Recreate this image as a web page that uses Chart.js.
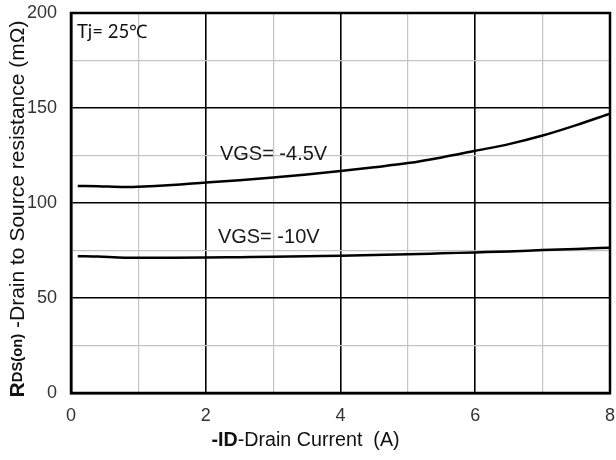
<!DOCTYPE html>
<html>
<head>
<meta charset="utf-8">
<script src="https://cdn.jsdelivr.net/npm/chart.js@4/dist/chart.umd.min.js"></script>
<style>
  html, body { margin: 0; padding: 0; background: #fff; }
  #wrap { width: 616px; height: 460px; }
</style>
</head>
<body>
<div id="wrap"><canvas id="c" width="616" height="460"></canvas></div>
<script>
// Drain current sample points (A)
const currentA = [0.1, 0.4, 0.8, 1.0, 1.5, 2.0, 2.5, 3.0, 3.5, 4.0, 4.5, 5.0, 5.5, 6.0, 6.5, 7.0, 7.5, 8.0];
// RDS(on) in mOhm at VGS = -4.5 V
const rdsVgs45 = [109, 108.8, 108.4, 108.6, 109.5, 110.8, 112, 113.4, 115, 116.8, 118.8, 121, 124, 127.5, 131, 135.5, 141, 147];
// RDS(on) in mOhm at VGS = -10 V
const rdsVgs10 = [72, 71.8, 71.2, 71.2, 71.2, 71.3, 71.5, 71.7, 72, 72.2, 72.6, 73, 73.5, 74, 74.5, 75.2, 75.8, 76.5];
// Labelled tick values
const xTickLabels = [0, 2, 4, 6, 8];
const yTickLabels = [0, 50, 100, 150, 200];
const curveLabels = ['VGS= -4.5V', 'VGS= -10V'];

const toPoints = (ys) => currentA.map((x, i) => ({ x: x, y: ys[i] }));

const FONT = '"Liberation Sans", Arial, sans-serif';

// Frame, series captions and the mixed-style axis titles
const decorations = {
  id: 'decorations',
  afterDraw(chart) {
    const { ctx, chartArea: a, scales } = chart;
    ctx.save();
    // plot frame
    ctx.strokeStyle = '#000';
    ctx.lineWidth = 2.5;
    ctx.strokeRect(a.left, a.top, a.right - a.left, a.bottom - a.top);

    // curve captions
    ctx.fillStyle = '#1a1a1a';
    ctx.font = '20px ' + FONT;
    ctx.textBaseline = 'middle';
    ctx.textAlign = 'left';
    ctx.fillText(curveLabels[0], scales.x.getPixelForValue(2.21), scales.y.getPixelForValue(125.3));
    ctx.fillText(curveLabels[1], scales.x.getPixelForValue(2.18), scales.y.getPixelForValue(81.6));

    // temperature note
    ctx.font = '18.5px Lato, "Open Sans", sans-serif';
    ctx.fillStyle = '#111';
    ctx.fillText('Tj= 25\u2103', a.left + 6, a.top + 19);

    // x-axis title: bold "-ID" then regular text
    ctx.fillStyle = '#111';
    const xt1 = '-ID', xt2 = '-Drain Current  (A)';
    ctx.font = 'bold 19.7px ' + FONT;
    const w1 = ctx.measureText(xt1).width;
    ctx.font = '19.7px ' + FONT;
    const w2 = ctx.measureText(xt2).width;
    let x0 = 305.5 - (w1 + w2) / 2;
    const yT = 441;
    ctx.font = 'bold 19.7px ' + FONT;
    ctx.fillText(xt1, x0, yT);
    ctx.font = '19.7px ' + FONT;
    ctx.fillText(xt2, x0 + w1, yT);

    // y-axis title, rotated: bold "R", small bold "DS(on)", regular rest
    ctx.translate(18, 209);
    ctx.rotate(-Math.PI / 2);
    const parts = [
      { t: 'R', f: 'bold 21px ' + FONT },
      { t: 'DS(on)', f: 'bold 14.8px ' + FONT },
      { t: ' -Drain to Source resistance (m\u03A9)', f: '21px ' + FONT }
    ];
    let total = 0;
    parts.forEach(p => { ctx.font = p.f; p.w = ctx.measureText(p.t).width; total += p.w; });
    let px = -total / 2;
    parts.forEach(p => {
      ctx.font = p.f;
      ctx.fillText(p.t, px, 0);
      px += p.w;
    });
    ctx.restore();
  }
};

new Chart(document.getElementById('c'), {
  type: 'line',
  data: {
    datasets: [
      {
        label: curveLabels[0],
        data: toPoints(rdsVgs45),
        borderColor: '#000',
        borderWidth: 2.5,
        pointRadius: 0,
        cubicInterpolationMode: 'monotone',
        fill: false
      },
      {
        label: curveLabels[1],
        data: toPoints(rdsVgs10),
        borderColor: '#000',
        borderWidth: 2.5,
        pointRadius: 0,
        cubicInterpolationMode: 'monotone',
        fill: false
      }
    ]
  },
  options: {
    responsive: false,
    animation: false,
    devicePixelRatio: 1,
    layout: { padding: { top: 13, right: 6, left: 0, bottom: 0 } },
    plugins: {
      legend: { display: false },
      tooltip: { enabled: false }
    },
    scales: {
      x: {
        type: 'linear',
        min: 0,
        max: 8,
        afterFit: (s) => { s.height = 67; s.paddingLeft = 0; s.paddingRight = 0; },
        ticks: {
          stepSize: 1,
          autoSkip: false,
          maxRotation: 0,
          padding: 12,
          color: '#333',
          font: { family: FONT, size: 18 },
          callback: (v) => xTickLabels.includes(v) ? String(v) : ''
        },
        grid: {
          drawTicks: false,
          color: (c) => xTickLabels.includes(c.tick.value) ? '#000' : '#c4c4c4',
          lineWidth: (c) => xTickLabels.includes(c.tick.value) ? 1.6 : 1.2
        },
        border: { display: true, color: '#000', width: 2.5 }
      },
      y: {
        type: 'linear',
        min: 0,
        max: 200,
        afterFit: (s) => { s.width = 71; s.paddingTop = 0; s.paddingBottom = 0; },
        ticks: {
          stepSize: 25,
          autoSkip: false,
          padding: 14,
          color: '#333',
          font: { family: FONT, size: 18 },
          callback: (v) => yTickLabels.includes(v) ? String(v) : ''
        },
        grid: {
          drawTicks: false,
          color: (c) => yTickLabels.includes(c.tick.value) ? '#000' : '#c4c4c4',
          lineWidth: (c) => yTickLabels.includes(c.tick.value) ? 1.6 : 1.2
        },
        border: { display: true, color: '#000', width: 2.5 }
      }
    }
  },
  plugins: [decorations]
});
</script>
</body>
</html>
